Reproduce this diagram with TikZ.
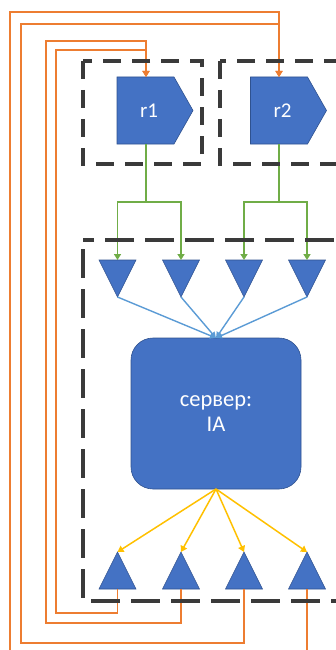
\documentclass[tikz,border=0pt]{standalone}
\usepackage{fontspec}
\setmainfont{Carlito}
\usetikzlibrary{arrows.meta,shapes.geometric,calc,backgrounds}
\definecolor{fillblue}{HTML}{4472C4}
\definecolor{edgeblue}{HTML}{2F528F}
\definecolor{lineblue}{HTML}{5B9BD5}
\definecolor{orangeln}{HTML}{ED7D31}
\definecolor{greenln}{HTML}{70AD47}
\definecolor{yellowln}{HTML}{FFC000}
\definecolor{dashgray}{HTML}{3A3A3A}
\begin{document}
\begin{tikzpicture}[x=1pt,y=-1pt,
  every node/.style={text=white},
  bluefill/.style={fill=fillblue, draw=edgeblue, line width=0.6pt, outer sep=0pt},
  rnode/.style={minimum width=76pt, minimum height=67pt, inner sep=0pt, outer sep=0pt,
     font=\fontsize{21}{24}\selectfont},
  tridown/.style={bluefill, isosceles triangle, isosceles triangle stretches,
     shape border rotate=270, minimum width=37pt, minimum height=37pt, inner sep=0pt},
  triup/.style={bluefill, isosceles triangle, isosceles triangle stretches,
     shape border rotate=90, minimum width=37pt, minimum height=37pt, inner sep=0pt},
  server/.style={bluefill, rounded corners=22pt, minimum width=170pt,
     minimum height=151pt, align=center, inner sep=0pt,
     font=\fontsize{22.5}{25}\selectfont},
  orangearrow/.style={draw=orangeln, line width=1.5pt, -{Triangle[length=6pt,width=7pt]}},
  greenarrow/.style={draw=greenln, line width=1.5pt, -{Triangle[length=6pt,width=7pt]}},
  bluearrow/.style={draw=lineblue, line width=1.4pt, -{Triangle[length=6pt,width=6pt]}},
  yellowarrow/.style={draw=yellowln, line width=1.5pt, -{Triangle[length=6pt,width=7pt]}},
  dashbox/.style={draw=dashgray, line width=3.2pt},
]
\useasboundingbox (0,0) rectangle (335,650);

% r nodes (pentagon arrows)
\node[rnode] (r1) at (155,110.5) {\hspace*{-12pt}\raisebox{-3pt}{r1}};
\node[rnode] (r2) at (288.5,110.5) {\hspace*{-12pt}\raisebox{-3pt}{r2}};
\begin{scope}[on background layer]
\foreach \r in {r1,r2}
  \filldraw[fill=fillblue, draw=edgeblue, line width=0.6pt]
    (\r.north west) -- ($(\r.north west)+(57,0)$) -- (\r.east)
    -- ($(\r.south west)+(57,0)$) -- (\r.south west) -- cycle;
\end{scope}

% top (inverted) triangles
\node[tridown, anchor=apex] (a1) at (117.5,297) {};
\node[tridown, anchor=apex] (a2) at (181,297) {};
\node[tridown, anchor=apex] (a3) at (244,297) {};
\node[tridown, anchor=apex] (a4) at (307,297) {};

% server
\node[server] (srv) at (216,413.5) {\raisebox{-5pt}{сервер:}\\[0pt]\raisebox{-5pt}{IA}};

% bottom triangles
\node[triup, anchor=apex] (b1) at (117.5,552) {};
\node[triup, anchor=apex] (b2) at (181,552) {};
\node[triup, anchor=apex] (b3) at (244,552) {};
\node[triup, anchor=apex] (b4) at (307,552) {};

% green connectors
\draw[greenarrow] ([xshift=-9pt]r1.south) -- ++(0,58) -| (a1.lower side);
\draw[greenarrow] ([xshift=-9pt]r1.south) -- ++(0,58) -| (a2.lower side);
\draw[greenarrow] ([xshift=-9.5pt]r2.south) -- ++(0,58) -| (a3.lower side);
\draw[greenarrow] ([xshift=-9.5pt]r2.south) -- ++(0,58) -| (a4.lower side);

% blue connectors
\foreach \t in {a1,a2,a3,a4} \draw[bluearrow] (\t.apex) -- (srv.north);

% yellow connectors
\foreach \t in {b1,b2,b3,b4} \draw[yellowarrow] (srv.south) -- (\t.apex);

% orange connectors
\draw[orangearrow] (b1.lower side) |- (56,613) |- (146,50) -- ([xshift=-9pt]r1.north);
\draw[orangearrow] (b2.lower side) |- (46,623) |- (146,41) -- ([xshift=-9pt]r1.north);
\draw[orangearrow] (b3.lower side) |- (21,643) |- (279,24) -- ([xshift=-9.5pt]r2.north);
\draw[orangearrow] (b4.lower side) |- (10,660) |- (279,12) -- ([xshift=-9.5pt]r2.north);

% dashed boxes
\draw[dashbox, dash pattern=on 18pt off 11pt] (83,61) rectangle (202,164);
\draw[dashbox, dash pattern=on 18pt off 11pt] (220,61) rectangle (352,164);
\draw[dashbox, dash pattern=on 29pt off 11pt, dash phase=-9pt] (83,240) rectangle (352,601);
\end{tikzpicture}
\end{document}
